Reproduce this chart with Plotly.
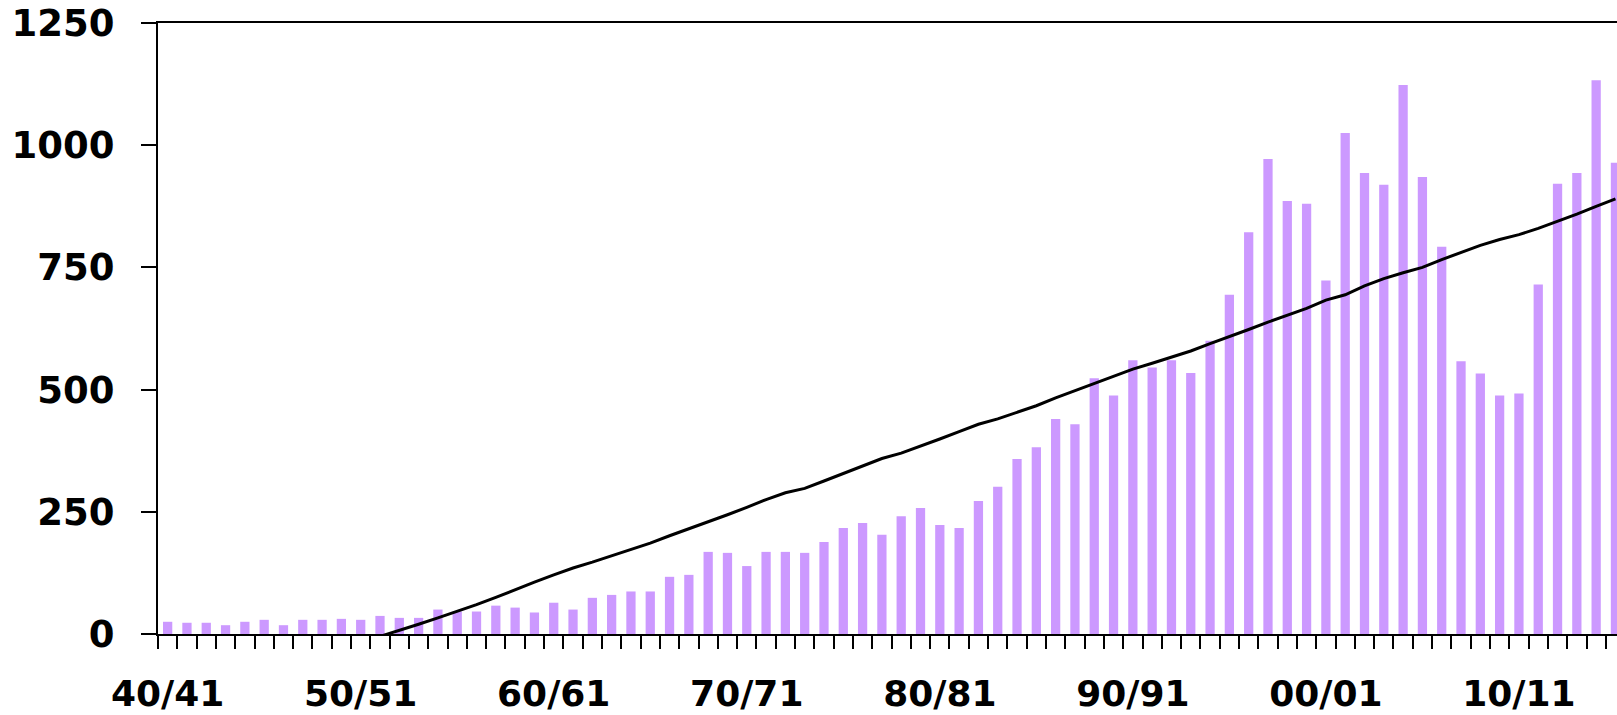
import plotly.graph_objects as go

# Season start years (1940/41 ... 2015/16)
years = list(range(1940, 2016))

# Bar values
bar_values = [
    25, 23, 23, 18, 25, 29, 18, 29, 29, 31,
    29, 37, 33, 33, 50, 46, 46, 58, 54, 44,
    64, 50, 74, 80, 87, 87, 117, 121, 168, 166,
    139, 168, 168, 166, 188, 217, 227, 203, 241, 258,
    223, 217, 272, 301, 358, 382, 440, 429, 523, 488,
    560, 545, 560, 534, 600, 694, 822, 972, 886, 880,
    723, 1025, 943, 919, 1123, 935, 792, 558, 533, 488,
    492, 715, 921, 943, 1133, 964,
]

# Trend line (starts at season 1951/52)
line_years = list(range(1951, 2016))
line_values = [
    -5, 7, 20, 33, 46, 60, 75, 91, 106,
    121, 135, 147, 160, 172, 186, 201, 215, 229, 244,
    259, 275, 289, 298, 313, 328, 344, 359, 370, 384,
    399, 414, 429, 440, 454, 467, 483, 498, 512, 527,
    542, 554, 566, 579, 594, 608, 623, 638, 652, 666,
    683, 694, 712, 727, 739, 750, 766, 780, 795, 807,
    817, 830, 844, 859, 875, 890,
]

tick_years = [1940, 1950, 1960, 1970, 1980, 1990, 2000, 2010]
tick_labels = ["40/41", "50/51", "60/61", "70/71", "80/81", "90/91", "00/01", "10/11"]
y_ticks = [0, 250, 500, 750, 1000, 1250]

fig = go.Figure()
fig.add_trace(go.Bar(
    x=years, y=bar_values, width=0.48,
    marker=dict(color="#cc99ff", line=dict(width=0)),
    showlegend=False,
))
fig.add_trace(go.Scatter(
    x=line_years, y=line_values, mode="lines",
    line=dict(color="black", width=3),
    showlegend=False,
))

font_lbl = dict(family="DejaVu Sans", color="black", weight="bold")

fig.update_layout(
    width=1617, height=715,
    margin=dict(l=158, r=0, t=23, b=81, pad=0),
    paper_bgcolor="white", plot_bgcolor="white",
    bargap=0.5,
)
fig.update_xaxes(
    range=[1939.5, 2015.08],
    automargin=False, ticklabeloverflow="allow",
    tickmode="array", tickvals=tick_years, ticktext=tick_labels,
    ticks="outside", ticklen=27, tickcolor="rgba(0,0,0,0)",
    tickfont=dict(size=36, **font_lbl),
    showline=True, linecolor="black", linewidth=2, mirror=True,
    showgrid=False, zeroline=False,
    minor=dict(ticks="outside", ticklen=13, tickwidth=2, tickcolor="black",
               tick0=1939.5, dtick=1, showgrid=False),
)
fig.update_yaxes(
    range=[0, 1250],
    automargin=False, ticklabeloverflow="allow",
    tickmode="array", tickvals=y_ticks,
    ticks="outside", ticklen=15, tickwidth=2, tickcolor="black",
    tickfont=dict(size=37, **font_lbl),
    ticklabelstandoff=19,
    showline=True, linecolor="black", linewidth=2,
    showgrid=False, zeroline=False,
)

fig.write_html(
    "out.html",
    config={"displayModeBar": False},
    post_script="document.body.style.margin='0';document.body.style.overflow='hidden';",
)
